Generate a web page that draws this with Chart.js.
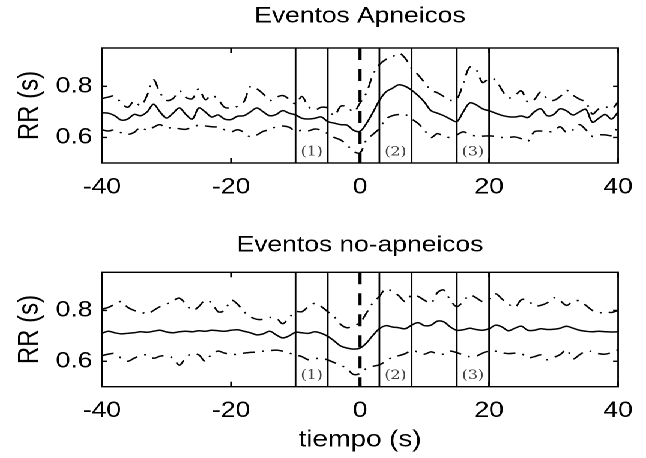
<!DOCTYPE html>
<html><head><meta charset="utf-8">
<script src="https://cdn.jsdelivr.net/npm/chart.js@4.4.1/dist/chart.umd.min.js"></script>
<style>
html,body{margin:0;padding:0;background:#fff;overflow:hidden;}
#wrap{position:absolute;left:0;top:0;width:538px;height:458px;transform:scale(1.20074,1);transform-origin:0 0;}
canvas{display:block;}
</style></head><body>
<div id="wrap"><canvas id="c1" width="538" height="229"></canvas><canvas id="c2" width="538" height="229"></canvas></div>
<script>
// ---- data ----
const time = [-40,-39,-38,-37,-36,-35,-34,-33,-32,-31,-30,-29,-28,-27,-26,-25,-24,-23,-22,-21,-20,-19,-18,-17,-16,-15,-14,-13,-12,-11,-10,-9,-8,-7,-6,-5,-4,-3,-2,-1,0,1,2,3,4,5,6,7,8,9,10,11,12,13,14,15,16,17,18,19,20,21,22,23,24,25,26,27,28,29,30,31,32,33,34,35,36,37,38,39,40];
const xTicks = [-40,-20,0,20,40];
const yTicks = [0.6,0.8];
const solidMarkers = [-10,-5,3,8,15,20];
const dashedMarkers = [0];
const intervals = [[-10,-5],[3,8],[15,20]];
const intervalLabels = ['(1)','(2)','(3)'];
const titles = ['Eventos Apneicos','Eventos no-apneicos'];
const yLabel = 'RR (s)';
const xLabel = 'tiempo (s)';

const apMean = [0.696,0.695,0.685,0.668,0.672,0.690,0.685,0.700,0.730,0.700,0.676,0.695,0.715,0.690,0.672,0.715,0.700,0.680,0.688,0.672,0.670,0.683,0.685,0.700,0.715,0.700,0.685,0.690,0.705,0.695,0.688,
0.675,0.672,0.675,0.680,0.662,0.656,0.650,0.648,0.628,0.624,
0.655,0.698,0.745,0.778,0.792,0.806,0.800,0.785,0.764,0.738,
0.705,0.695,0.685,0.672,0.662,0.700,0.735,0.728,0.712,0.704,
0.695,0.686,0.681,0.680,0.684,0.678,0.700,0.712,0.685,0.690,
0.712,0.704,0.688,0.700,0.710,0.660,0.675,0.690,0.672,0.700];
const apUpper = [0.752,0.758,0.762,0.735,0.718,0.742,0.724,0.765,0.825,0.775,0.745,0.752,0.782,0.757,0.752,0.790,0.748,0.765,0.748,0.718,0.716,0.722,0.740,0.800,0.790,0.770,0.745,0.757,0.764,0.750,0.732,
0.760,0.720,0.708,0.718,0.715,0.685,0.722,0.720,0.700,0.735,
0.775,0.845,0.885,0.905,0.915,0.930,0.910,0.870,0.845,0.815,
0.785,0.775,0.760,0.745,0.750,0.810,0.875,0.865,0.815,0.830,
0.825,0.785,0.755,0.765,0.782,0.738,0.748,0.778,0.752,0.745,
0.760,0.784,0.765,0.750,0.738,0.692,0.712,0.720,0.712,0.740];
const apLower = [0.630,0.625,0.630,0.618,0.612,0.620,0.640,0.628,0.640,0.650,0.636,0.640,0.634,0.632,0.640,0.648,0.645,0.642,0.640,0.630,0.622,0.630,0.620,0.602,0.610,0.624,0.630,0.642,0.645,0.640,0.624,
0.628,0.626,0.633,0.628,0.615,0.600,0.590,0.570,0.545,0.540,
0.590,0.612,0.635,0.672,0.685,0.690,0.690,0.672,0.655,0.628,
0.600,0.615,0.605,0.600,0.610,0.622,0.612,0.605,0.605,0.606,
0.604,0.600,0.600,0.602,0.595,0.585,0.622,0.625,0.622,0.625,
0.642,0.620,0.630,0.650,0.630,0.604,0.610,0.610,0.608,0.644];

const noMean = [0.710,0.718,0.712,0.708,0.710,0.712,0.716,0.714,0.718,0.722,
0.715,0.712,0.716,0.718,0.716,0.720,0.718,0.722,0.720,0.718,
0.722,0.724,0.718,0.712,0.704,0.708,0.718,0.704,0.692,0.700,
0.714,0.712,0.710,0.716,0.710,0.698,0.680,0.660,0.652,0.648,
0.652,
0.672,0.702,0.728,0.740,0.735,0.732,0.728,0.742,0.752,0.740,
0.742,0.758,0.755,0.735,0.722,0.724,0.730,0.725,0.722,0.728,
0.742,0.735,0.720,0.730,0.738,0.722,0.722,0.728,0.725,0.726,
0.730,0.738,0.730,0.722,0.718,0.716,0.718,0.716,0.715,0.716];
const noUpper = [0.805,0.812,0.825,0.835,0.812,0.800,0.795,0.786,0.800,0.815,
0.825,0.838,0.848,0.825,0.800,0.815,0.840,0.830,0.795,0.800,
0.840,0.825,0.795,0.775,0.765,0.765,0.772,0.770,0.748,0.772,
0.795,0.795,0.815,0.828,0.815,0.795,0.775,0.745,0.732,0.740,
0.752,
0.790,0.830,0.855,0.885,0.875,0.858,0.835,0.860,0.855,0.840,
0.828,0.870,0.880,0.840,0.815,0.835,0.860,0.850,0.835,0.845,
0.865,0.845,0.825,0.812,0.842,0.840,0.818,0.820,0.830,0.850,
0.838,0.820,0.835,0.838,0.820,0.800,0.790,0.795,0.792,0.800];
const noLower = [0.622,0.628,0.630,0.612,0.600,0.612,0.622,0.625,0.612,0.620,
0.622,0.612,0.585,0.615,0.630,0.625,0.600,0.628,0.640,0.632,
0.628,0.627,0.632,0.635,0.636,0.640,0.642,0.644,0.640,0.632,
0.625,0.618,0.606,0.610,0.612,0.605,0.595,0.585,0.570,0.548,
0.552,
0.572,0.580,0.586,0.600,0.616,0.622,0.630,0.642,0.636,0.628,
0.637,0.630,0.628,0.640,0.634,0.625,0.618,0.620,0.632,0.640,
0.640,0.634,0.630,0.632,0.630,0.614,0.618,0.625,0.606,0.615,
0.626,0.645,0.610,0.625,0.640,0.638,0.630,0.628,0.635,0.645];

// ---- drawing ----
const SX = 646/538;
const FONT = '"Liberation Sans", Arial, Helvetica, sans-serif';
const DASHDOT = [10, 6, 1.6, 6];

const decor = {
  id: 'decor',
  afterDraw(chart) {
    const {ctx, chartArea: a, scales: {x, y}} = chart;
    const seg = (x0, y0, x1, y1) => { ctx.beginPath(); ctx.moveTo(x0, y0); ctx.lineTo(x1, y1); ctx.stroke(); };
    ctx.save();
    ctx.strokeStyle = '#000';
    ctx.lineWidth = 1.4;
    solidMarkers.forEach(v => { const p = x.getPixelForValue(v); seg(p, a.top, p, a.bottom); });
    ctx.lineWidth = 2.6;
    ctx.setLineDash([12, 9]);
    dashedMarkers.forEach(v => { const p = x.getPixelForValue(v); seg(p, a.top, p, a.bottom); });
    ctx.setLineDash([]);
    ctx.lineWidth = 1.4;
    ctx.strokeRect(a.left, a.top, a.right - a.left, a.bottom - a.top);
    xTicks.forEach(v => { const p = x.getPixelForValue(v); seg(p, a.top, p, a.top + 5); seg(p, a.bottom, p, a.bottom - 5); });
    yTicks.forEach(v => { const p = y.getPixelForValue(v); seg(a.left, p, a.left + 4.2, p); seg(a.right, p, a.right - 4.2, p); });
    ctx.fillStyle = '#444';
    ctx.font = '13px "DejaVu Serif", "Liberation Serif", serif';
    ctx.textAlign = 'center';
    ctx.textBaseline = 'middle';
    intervals.forEach((iv, i) => {
      ctx.fillText(intervalLabels[i], x.getPixelForValue((iv[0] + iv[1]) / 2), a.bottom - 11);
    });
    ctx.restore();
  }
};

function build(id, titleText, upper, mean, lower, g) {
  const ds = (arr, dash) => ({
    data: time.map((t, i) => ({x: t, y: arr[i]})),
    borderColor: '#000', borderWidth: 1.5, borderDash: dash,
    pointRadius: 0, tension: 0.35, fill: false
  });
  return new Chart(document.getElementById(id), {
    type: 'line',
    data: {datasets: [ds(upper, DASHDOT), ds(mean, []), ds(lower, DASHDOT)]},
    options: {
      responsive: false, animation: false, devicePixelRatio: 2,
      layout: {padding: {left: 0, right: 538 - 621 / SX, top: 0, bottom: 0}},
      plugins: {
        legend: {display: false}, tooltip: {enabled: false},
        title: {display: true, text: titleText, fullSize: false, color: '#000',
          font: {family: FONT, size: 22, weight: 'normal', lineHeight: 1.2},
          padding: {top: 3, bottom: g.top - 3 - 26.4}}
      },
      scales: {
        x: {
          type: 'linear', min: -40, max: 40,
          afterBuildTicks: s => { s.ticks = xTicks.map(v => ({value: v})); },
          afterFit: s => { s.height = 229 - g.bottom; },
          grid: {display: false, drawTicks: false}, border: {display: false},
          ticks: {color: '#000', font: {family: FONT, size: 22}, padding: 11, maxRotation: 0, autoSkip: false,
            callback: v => String(v)},
          title: {display: !!g.xTitle, text: g.xTitle || '', color: '#000',
            font: {family: FONT, size: 23, lineHeight: 1.2}, padding: {top: 0, bottom: 4}}
        },
        y: {
          type: 'linear', min: 0.5, max: 0.95,
          afterBuildTicks: s => { s.ticks = yTicks.map(v => ({value: v})); },
          afterFit: s => { s.width = 102 / SX; },
          grid: {display: false, drawTicks: false}, border: {display: false},
          ticks: {color: '#000', font: {family: FONT, size: 22}, padding: 8, callback: v => v.toFixed(1)},
          title: {display: true, text: yLabel, color: '#000',
            font: {family: FONT, size: 24, lineHeight: 1.2}, padding: {top: 10.6, bottom: 0}}
        }
      }
    },
    plugins: [decor]
  });
}

build('c1', titles[0], apUpper, apMean, apLower, {top: 48, bottom: 163});
build('c2', titles[1], noUpper, noMean, noLower, {top: 43.3, bottom: 157.7, xTitle: xLabel});
</script></body></html>
